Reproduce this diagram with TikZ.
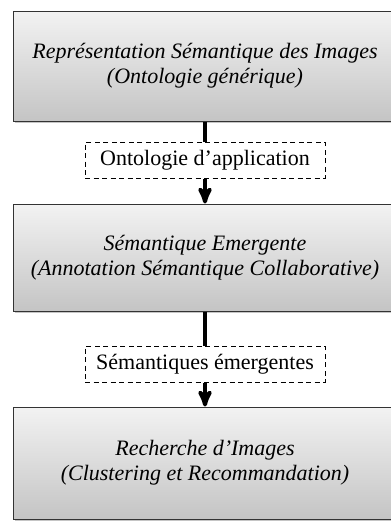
\documentclass[tikz,border=0pt]{standalone}
\usepackage{fontspec}
\setmainfont{Liberation Serif}
\usetikzlibrary{positioning,arrows,shadows}

\begin{document}
\begin{tikzpicture}[->,>=stealth',line width=4pt,node distance=20pt,
  bloc/.style={rectangle,draw=black!80,line width=1pt,top color=black!5,bottom color=black!23,
    drop shadow={shadow xshift=2pt,shadow yshift=-2pt,fill=black!45},
    minimum width=384pt,minimum height=110pt,align=center,font=\itshape\fontsize{22}{25}\selectfont},
  etiq/.style={rectangle,draw,dash pattern=on 5pt off 3.5pt,line width=1pt,fill=white,
    minimum width=240pt,minimum height=36pt,font=\fontsize{22}{25}\selectfont}]

  \useasboundingbox (0pt,0pt) rectangle (391pt,-523pt);

  \node[bloc] (repr) at (205pt,-66pt) {Représentation Sémantique des Images\\(Ontologie générique)};
  \node[etiq] (onto) [below=20pt of repr] {Ontologie d’application};
  \node[bloc,minimum height=107pt] (emer) [below=25pt of onto] {Sémantique Emergente\\(Annotation Sémantique Collaborative)};
  \node[etiq] (sem) [below=34pt of emer] {Sémantiques émergentes};
  \node[bloc,minimum height=112pt] (rech) [below=24pt of sem] {Recherche d’Images\\(Clustering et Recommandation)};

  \draw[-] (repr) -- (onto);
  \draw (onto) -- (emer);
  \draw[-] (emer) -- (sem);
  \draw (sem) -- (rech);
\end{tikzpicture}
\end{document}
